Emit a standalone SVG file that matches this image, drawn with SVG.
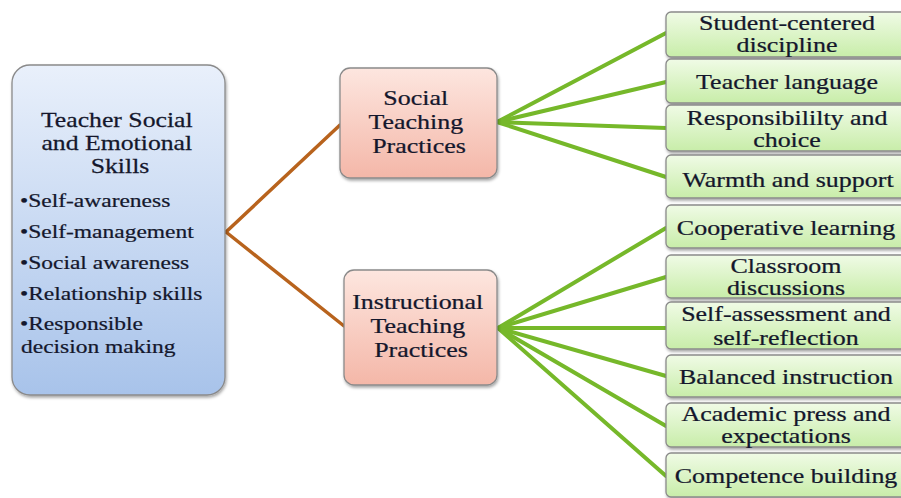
<svg xmlns="http://www.w3.org/2000/svg" width="901" height="498" viewBox="0 0 901 498">
  <defs>
    <linearGradient id="gBlue" x1="0" y1="0" x2="0" y2="1">
      <stop offset="0" stop-color="#e9f0fb"/>
      <stop offset="1" stop-color="#a8c3ea"/>
    </linearGradient>
    <linearGradient id="gPink" x1="0" y1="0" x2="0" y2="1">
      <stop offset="0" stop-color="#fde6df"/>
      <stop offset="1" stop-color="#f4b7a8"/>
    </linearGradient>
    <linearGradient id="gGreen" x1="0" y1="0" x2="0" y2="1">
      <stop offset="0" stop-color="#f0fbe6"/>
      <stop offset="1" stop-color="#c8eda9"/>
    </linearGradient>
    <filter id="shadow" x="-10%" y="-10%" width="130%" height="140%">
      <feDropShadow dx="1" dy="2" stdDeviation="1.5" flood-color="#000" flood-opacity="0.35"/>
    </filter>
  </defs>
  <style>
    .box { stroke: #8a8a8a; stroke-width: 1.3; filter: url(#shadow); }
    .blue { fill: url(#gBlue); }
    .pink { fill: url(#gPink); }
    .green { fill: url(#gGreen); }
    .t { font-family: "Liberation Serif", "Times New Roman", serif; font-size: 22px; fill: #14172c; stroke: #14172c; stroke-width: 0.25; text-anchor: middle; }
    .b { font-family: "Liberation Serif", "Times New Roman", serif; font-size: 18.5px; fill: #14172c; stroke: #14172c; stroke-width: 0.22; }
    .brown { stroke: #b8631d; stroke-width: 3.5; fill: none; stroke-linecap: round; }
    .lime { stroke: #76b82a; stroke-width: 4; fill: none; stroke-linecap: round; }
  </style>

  <rect width="901" height="498" fill="#ffffff"/>

  <!-- connectors -->
  <g id="connectors">
    <line class="brown" x1="226" y1="232" x2="340" y2="125"/>
    <line class="brown" x1="226" y1="232" x2="344" y2="326"/>
    <line class="lime" x1="497" y1="122" x2="666" y2="33"/>
    <line class="lime" x1="497" y1="122" x2="666" y2="82"/>
    <line class="lime" x1="497" y1="122" x2="666" y2="128"/>
    <line class="lime" x1="497" y1="122" x2="666" y2="177"/>
    <line class="lime" x1="498" y1="328" x2="666" y2="228"/>
    <line class="lime" x1="498" y1="328" x2="666" y2="277"/>
    <line class="lime" x1="498" y1="328" x2="666" y2="328"/>
    <line class="lime" x1="498" y1="328" x2="666" y2="376"/>
    <line class="lime" x1="498" y1="328" x2="666" y2="426"/>
    <line class="lime" x1="498" y1="328" x2="666" y2="476"/>
  </g>

  <!-- root: teacher skills -->
  <g id="node-teacher-skills">
    <rect class="box blue" x="12" y="65" width="213" height="330" rx="18"/>
    <text class="t" transform="translate(120 127) scale(1.17 1)">
      <tspan x="0" y="0">Teacher Social</tspan>
      <tspan x="0" y="23">and Emotional</tspan>
      <tspan x="0" y="46">Skills</tspan>
    </text>
    <g>
      <text class="b" transform="translate(20 207) scale(1.27 1)">•Self-awareness</text>
      <text class="b" transform="translate(20 238) scale(1.27 1)">•Self-management</text>
      <text class="b" transform="translate(20 269) scale(1.27 1)">•Social awareness</text>
      <text class="b" transform="translate(20 300) scale(1.27 1)">•Relationship skills</text>
      <text class="b" transform="translate(20 330) scale(1.27 1)">•Responsible</text>
      <text class="b" transform="translate(21 353) scale(1.27 1)">decision making</text>
    </g>
  </g>

  <!-- practice groups -->
  <g id="node-social-practices">
    <rect class="box pink" x="340" y="68" width="157" height="110" rx="10"/>
    <text class="t" transform="translate(419 105) scale(1.18 1)">
      <tspan x="0" y="0">Social</tspan>
      <tspan x="0" y="24">Teaching</tspan>
      <tspan x="0" y="48">Practices</tspan>
    </text>
  </g>
  <g id="node-instructional-practices">
    <rect class="box pink" x="344" y="270" width="153" height="115" rx="10"/>
    <text class="t" transform="translate(421 309) scale(1.18 1)">
      <tspan x="0" y="0">Instructional</tspan>
      <tspan x="0" y="24">Teaching</tspan>
      <tspan x="0" y="48">Practices</tspan>
    </text>
  </g>

  <!-- social practices leaves -->
  <g id="node-student-centered-discipline">
    <rect class="box green" x="666" y="12" width="242" height="45" rx="5"/>
    <text class="t" transform="translate(787 30) scale(1.18 1)"><tspan x="0" y="0">Student-centered</tspan><tspan x="0" y="22">discipline</tspan></text>
  </g>
  <g id="node-teacher-language">
    <rect class="box green" x="666" y="59" width="242" height="44" rx="5"/>
    <text class="t" transform="translate(787 89) scale(1.18 1)">Teacher language</text>
  </g>
  <g id="node-responsibility-choice">
    <rect class="box green" x="666" y="105" width="242" height="46" rx="5"/>
    <text class="t" transform="translate(787 125) scale(1.18 1)"><tspan x="0" y="0">Responsibililty and</tspan><tspan x="0" y="22">choice</tspan></text>
  </g>
  <g id="node-warmth-support">
    <rect class="box green" x="666" y="155" width="242" height="43" rx="5"/>
    <text class="t" transform="translate(788 187) scale(1.18 1)">Warmth and support</text>
  </g>

  <!-- instructional practices leaves -->
  <g id="node-cooperative-learning">
    <rect class="box green" x="666" y="205" width="242" height="43" rx="5"/>
    <text class="t" transform="translate(786 235) scale(1.18 1)">Cooperative learning</text>
  </g>
  <g id="node-classroom-discussions">
    <rect class="box green" x="666" y="255" width="242" height="43" rx="5"/>
    <text class="t" transform="translate(786 273) scale(1.18 1)"><tspan x="0" y="0">Classroom</tspan><tspan x="0" y="22">discussions</tspan></text>
  </g>
  <g id="node-self-assessment">
    <rect class="box green" x="666" y="302" width="242" height="47" rx="5"/>
    <text class="t" transform="translate(786 321) scale(1.18 1)"><tspan x="0" y="0">Self-assessment and</tspan><tspan x="0" y="24">self-reflection</tspan></text>
  </g>
  <g id="node-balanced-instruction">
    <rect class="box green" x="666" y="355" width="242" height="42" rx="5"/>
    <text class="t" transform="translate(786 384) scale(1.18 1)">Balanced instruction</text>
  </g>
  <g id="node-academic-press">
    <rect class="box green" x="666" y="403" width="242" height="44" rx="5"/>
    <text class="t" transform="translate(786 421) scale(1.18 1)"><tspan x="0" y="0">Academic press and</tspan><tspan x="0" y="22">expectations</tspan></text>
  </g>
  <g id="node-competence-building">
    <rect class="box green" x="666" y="453" width="242" height="44" rx="5"/>
    <text class="t" transform="translate(786 483) scale(1.18 1)">Competence building</text>
  </g>
</svg>
